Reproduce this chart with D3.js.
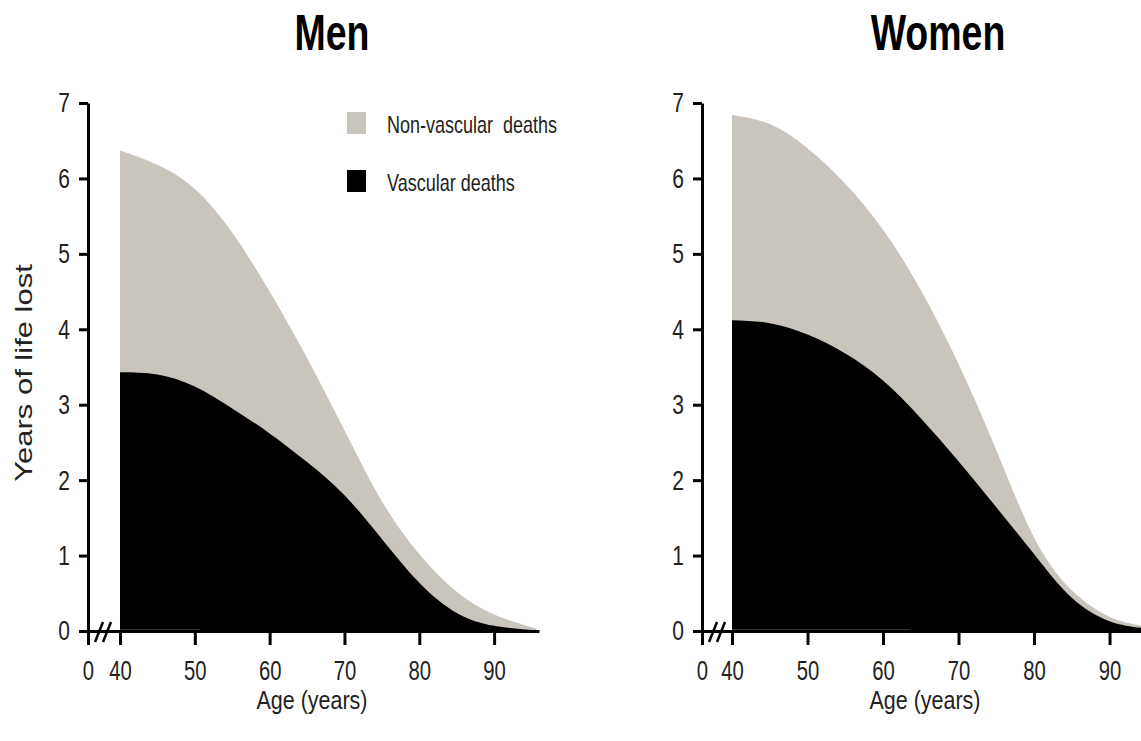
<!DOCTYPE html>
<html>
<head>
<meta charset="utf-8">
<script src="https://cdn.jsdelivr.net/npm/d3@7"></script>
<style>
  html, body { margin: 0; padding: 0; background: #fff; }
  svg { display: block; font-family: "Liberation Sans", Arial, sans-serif; }
</style>
</head>
<body>
<svg id="chart" width="1141" height="741"></svg>
<script>
(function () {
  'use strict';

  // ── Data (years of life lost, stacked) ───────────────────────────────────
  const menAges       = [40, 45, 50, 55, 60, 65, 70, 75, 80, 85, 90, 95.7];
  const menTotal      = [6.37, 6.18, 5.86, 5.28, 4.50, 3.62, 2.66, 1.72, 1.02, 0.52, 0.22, 0.03];
  const menVascular   = [3.43, 3.40, 3.24, 2.95, 2.62, 2.24, 1.80, 1.22, 0.64, 0.24, 0.07, 0.01];

  const womenAges     = [40, 45, 50, 55, 60, 65, 70, 75, 80, 85, 90, 94.3];
  const womenTotal    = [6.84, 6.72, 6.40, 5.93, 5.32, 4.52, 3.54, 2.40, 1.24, 0.54, 0.19, 0.07];
  const womenVascular = [4.12, 4.08, 3.93, 3.68, 3.32, 2.82, 2.25, 1.64, 1.02, 0.44, 0.13, 0.04];

  const xTicks = [0, 40, 50, 60, 70, 80, 90];
  const yTicks = [0, 1, 2, 3, 4, 5, 6, 7];
  const legendLabels = ['Non-vascular\u00a0 deaths', 'Vascular deaths'];
  const legendColors = ['#c9c5bd', '#000000'];

  const GREY = '#c9c5bd';
  const SX = 0.75;           // the source figure is squeezed horizontally
  const svg = d3.select('#chart');
  const y = d3.scaleLinear().domain([0, 7]).range([631, 103]);

  const panels = [
    { title: 'Men',   cx: 332, ageCx: 312, ages: menAges, total: menTotal, vasc: menVascular,
      xDom: [0, 40, 96],   xRange: [88, 120, 539],   baseEnd: 50.7, legend: true },
    { title: 'Women', cx: 938, ageCx: 925, ages: womenAges, total: womenTotal, vasc: womenVascular,
      xDom: [0, 40, 94.3], xRange: [702, 732, 1142], baseEnd: 63.5, legend: false }
  ];

  panels.forEach(drawPanel);

  // text helper: squeezed label at (x, y)
  function label(parent, x, yy, txt, size, opts = {}) {
    return parent.append('g')
      .attr('transform', `translate(${x},${yy}) scale(${opts.sx || SX},1)`)
      .append('text')
      .attr('text-anchor', opts.anchor || 'middle')
      .attr('font-size', size)
      .attr('font-weight', opts.bold ? 'bold' : null)
      .attr('fill', opts.fill || '#222')
      .text(txt);
  }

  // ── Panel ────────────────────────────────────────────────────────────────
  function drawPanel(p) {
    const x = d3.scaleLinear().domain(p.xDom).range(p.xRange);
    const g = svg.append('g');
    const rows = p.ages.map((a, i) => ({ age: a, total: p.total[i], vasc: p.vasc[i] }));

    const area = key => d3.area()
      .x(d => x(d.age)).y0(y(0)).y1(d => Math.min(y(d[key]), y(0)))
      .curve(d3.curveNatural);

    g.append('path').datum(rows).attr('d', area('total')).attr('fill', GREY);
    g.append('path').datum(rows).attr('d', area('vasc')).attr('fill', '#000');

    // faint baseline seam inside the black area
    g.append('line')
      .attr('x1', x(40)).attr('x2', x(p.baseEnd))
      .attr('y1', y(0) - 1).attr('y2', y(0) - 1)
      .attr('stroke', '#4a4a4a').attr('stroke-width', 1.5);

    // x axis
    const xAxis = g.append('g')
      .attr('transform', `translate(0,${y(0)})`)
      .call(d3.axisBottom(x).tickValues(xTicks).tickFormat(d3.format('d'))
        .tickSize(14).tickSizeOuter(0).tickPadding(16));
    xAxis.select('.domain').attr('stroke-width', 3);
    xAxis.selectAll('.tick line').attr('stroke-width', 3);
    xAxis.selectAll('.tick text')
      .attr('font-size', 27).attr('fill', '#222')
      .attr('transform', `scale(${SX},1)`);

    // y axis
    const yAxis = g.append('g')
      .attr('transform', `translate(${x(0)},0)`)
      .call(d3.axisLeft(y).tickValues(yTicks).tickFormat(d3.format('d'))
        .tickSize(9).tickSizeOuter(0).tickPadding(9));
    yAxis.select('.domain').attr('stroke-width', 3);
    yAxis.selectAll('.tick line').attr('stroke-width', 3);
    yAxis.selectAll('.tick text')
      .attr('font-size', 28).attr('fill', '#222')
      .attr('x', -18 / SX)
      .attr('transform', `scale(${SX},1)`);

    // axis break marks
    [0, 8].forEach(dx => {
      g.append('line')
        .attr('x1', x(0) + 7 + dx).attr('y1', y(0) + 11)
        .attr('x2', x(0) + 15 + dx).attr('y2', y(0) - 9)
        .attr('stroke', '#000').attr('stroke-width', 2.5);
    });

    // titles
    label(g, p.cx, 50, p.title, 50, { bold: true, fill: '#000' });
    label(g, p.ageCx, 709, 'Age (years)', 25, { sx: 0.86 });

    if (p.legend) {
      legendLabels.forEach((txt, i) => {
        g.append('rect')
          .attr('x', 347).attr('y', 112 + i * 58)
          .attr('width', 19).attr('height', 22)
          .attr('fill', legendColors[i]);
        label(g, 387, 133 + i * 58, txt, 24, { anchor: 'start' });
      });
    }
  }

  // y-axis title
  svg.append('g')
    .attr('transform', `translate(32,373) scale(${SX},1) rotate(-90)`)
    .append('text')
    .attr('text-anchor', 'middle')
    .attr('font-size', 31).attr('fill', '#222')
    .text('Years of life lost');
})();
</script>
</body>
</html>
